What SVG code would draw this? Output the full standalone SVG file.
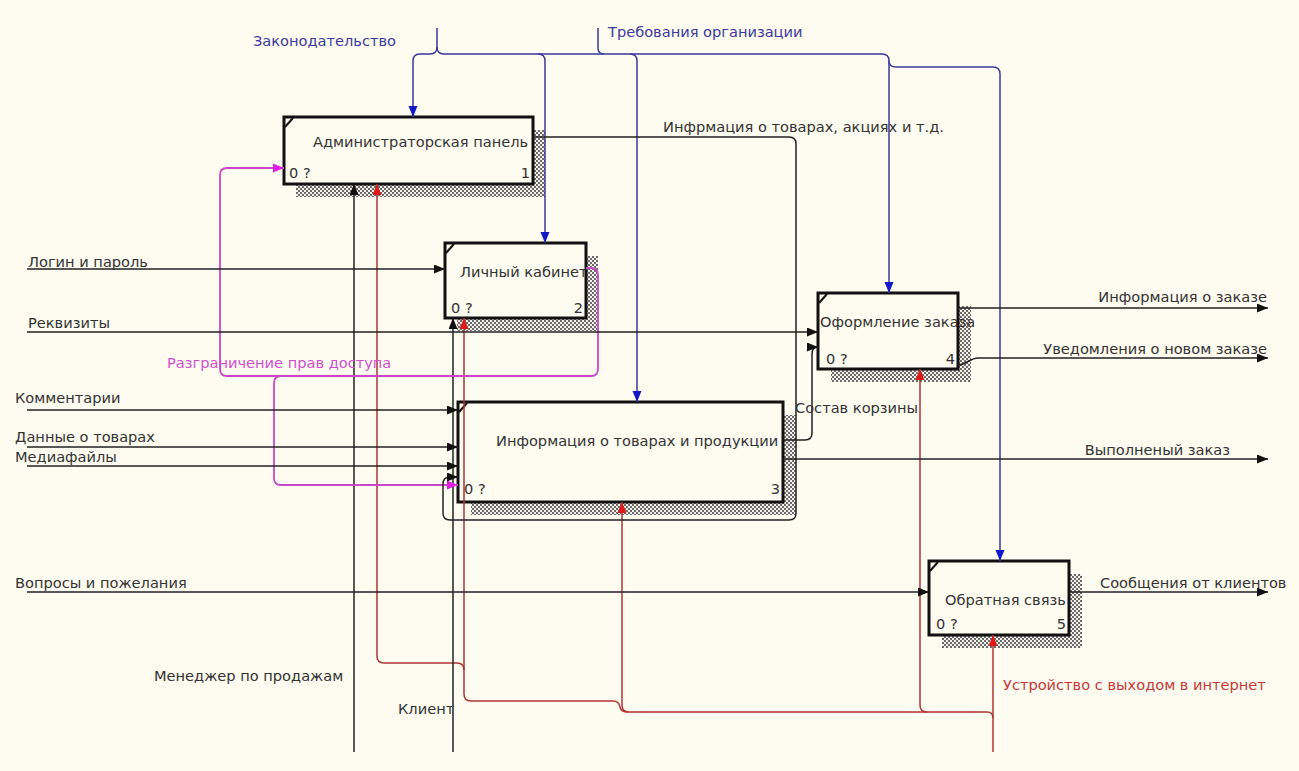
<svg xmlns="http://www.w3.org/2000/svg" width="1299" height="771" viewBox="0 0 1299 771">
<style>
text{font-family:"DejaVu Sans","Liberation Sans",sans-serif;font-size:14.6px;fill:#333}
.box{fill:#FEFBF1;stroke:#111;stroke-width:3}
.shadow{fill:url(#hatch)}
.tick{stroke:#111;stroke-width:2;fill:none}
.blk{stroke:#222;stroke-width:1.5;fill:none;marker-end:url(#ab)}
.blkn{stroke:#222;stroke-width:1.5;fill:none}
.blu{stroke:#3A3A9A;stroke-width:1.5;fill:none;marker-end:url(#abl)}
.blun{stroke:#3A3A9A;stroke-width:1.5;fill:none}
.red{stroke:#B03434;stroke-width:1.5;fill:none;marker-end:url(#ar)}
.redn{stroke:#B03434;stroke-width:1.5;fill:none}
.pnk{stroke:#C848C8;stroke-width:1.8;fill:none;marker-end:url(#ap)}
.pnkn{stroke:#C848C8;stroke-width:1.8;fill:none}
.tb{fill:#3A3AA0}
.tr{fill:#C83838}
.tp{fill:#D050D0}
.end{text-anchor:end}
</style>
<defs>
<pattern id="hatch" width="4" height="4" patternUnits="userSpaceOnUse">
<rect width="4" height="4" fill="#F4F2EA"/>
<rect x="0" y="0" width="2" height="2" fill="#6A6A6A"/>
<rect x="2" y="2" width="2" height="2" fill="#6A6A6A"/>
</pattern>
<marker id="ab" markerWidth="12" markerHeight="10" refX="11" refY="4.5" orient="auto" markerUnits="userSpaceOnUse"><path d="M0,0 L11,4.5 L0,9 Z" fill="#111"/></marker>
<marker id="abl" markerWidth="12" markerHeight="10" refX="11" refY="4.5" orient="auto" markerUnits="userSpaceOnUse"><path d="M0,0 L11,4.5 L0,9 Z" fill="#1018C8"/></marker>
<marker id="ar" markerWidth="12" markerHeight="10" refX="11" refY="4.5" orient="auto" markerUnits="userSpaceOnUse"><path d="M0,0 L11,4.5 L0,9 Z" fill="#E01818"/></marker>
<marker id="ap" markerWidth="12" markerHeight="10" refX="11" refY="4.5" orient="auto" markerUnits="userSpaceOnUse"><path d="M0,0 L11,4.5 L0,9 Z" fill="#E020E0"/></marker>
</defs>
<rect width="1299" height="771" fill="#FEFBF1"/>

<g id="node1">
<rect class="shadow" x="296" y="130" width="249" height="67"/>
<rect class="box" x="284" y="117" width="249" height="67"/>
<path class="tick" d="M285,127 L293,118"/>
<text x="313" y="147">Администраторская панель</text>
<text x="289" y="178">0 ?</text>
<text class="end" x="530" y="178">1</text>
</g>

<g id="node2">
<rect class="shadow" x="457" y="256" width="141" height="75"/>
<rect class="box" x="445" y="243" width="141" height="75"/>
<path class="tick" d="M446,253 L454,244"/>
<text x="460" y="277">Личный кабинет</text>
<text x="451" y="313">0 ?</text>
<text class="end" x="583" y="313">2</text>
</g>

<g id="node3">
<rect class="shadow" x="471" y="415" width="325" height="100"/>
<rect class="box" x="458" y="402" width="325" height="100"/>
<path class="tick" d="M459,412 L467,403"/>
<text x="496" y="446">Информация о товарах и продукции</text>
<text x="464" y="494">0 ?</text>
<text class="end" x="780" y="494">3</text>
</g>

<g id="node4">
<rect class="shadow" x="831" y="306" width="140" height="76"/>
<rect class="box" x="818" y="293" width="140" height="76"/>
<path class="tick" d="M819,303 L827,294"/>
<text x="820" y="327">Оформление заказа</text>
<text x="826" y="364">0 ?</text>
<text class="end" x="955" y="364">4</text>
</g>

<g id="node5">
<rect class="shadow" x="942" y="574" width="140" height="74"/>
<rect class="box" x="929" y="561" width="140" height="74"/>
<path class="tick" d="M930,571 L938,562"/>
<text x="945" y="605">Обратная связь</text>
<text x="936" y="629">0 ?</text>
<text class="end" x="1066" y="629">5</text>
</g>

<g id="connectors">
<path class="blu" d="M437,28 V47 Q437,54 430,54 H420 Q413,54 413,61 V117"/>
<path class="blu" d="M437,47 Q437,54 444,54 H882 Q889,54 889,61 V293"/>
<path class="blun" d="M598,28 V48 Q598,54 604,54"/>
<path class="blu" d="M538,54 Q545,54 545,61 V243"/>
<path class="blu" d="M630,54 Q637,54 637,61 V402"/>
<path class="blu" d="M889,61 Q889,67 896,67 H993 Q1000,67 1000,74 V561"/>
<path class="red" d="M993,752 V635"/>
<path class="red" d="M993,718 Q993,712 987,712 H927 Q920,712 920,705 V369"/>
<path class="red" d="M927,712 H629 Q622,712 622,705 V502"/>
<path class="red" d="M628,712 Q621,712 620,707 Q619,701 613,701 H471 Q464,701 464,694 V318"/>
<path class="red" d="M464,670 Q464,663 457,663 H384 Q377,663 377,656 V184"/>
<path class="blk" d="M354,752 V184"/>
<path class="blk" d="M453,752 V318"/>
<path class="pnk" d="M586,268 H591 Q598,268 598,275 V369 Q598,376 591,376 H227 Q220,376 220,369 V175 Q220,168 227,168 H284"/>
<path class="pnk" d="M281,376 Q274,376 274,383 V478 Q274,485 281,485 H458"/>
<path class="blk" d="M27,269 H445"/>
<path class="blk" d="M27,332 H818"/>
<path class="blk" d="M27,410 H458"/>
<path class="blk" d="M27,447 H458"/>
<path class="blk" d="M27,466 H458"/>
<path class="blk" d="M27,592 H929"/>
<path class="blk" d="M533,137 H789 Q796,137 796,144 V513 Q796,520 789,520 H450 Q443,520 443,513 V484 Q443,477 450,477 H458"/>
<path class="blk" d="M783,440 H805 Q812,440 812,433 V354 Q812,347 818,347"/>
<path class="blk" d="M958,308 H1268"/>
<path class="blk" d="M958,365 C966,365 970,358 978,358 H1268"/>
<path class="blk" d="M783,459 H1268"/>
<path class="blk" d="M1069,592 H1268"/>
</g>

<g id="labels">
<text class="tb" x="253" y="46">Законодательство</text>
<text class="tb" x="608" y="37">Требования организации</text>
<text x="663" y="132">Инфрмация о товарах, акциях и т.д.</text>
<text x="28" y="267">Логин и пароль</text>
<text x="28" y="328">Реквизиты</text>
<text class="tp" x="167" y="368">Разграничение прав доступа</text>
<text x="15" y="403">Комментарии</text>
<text x="15" y="442">Данные о товарах</text>
<text x="15" y="462">Медиафайлы</text>
<text x="795" y="413">Состав корзины</text>
<text class="end" x="1267" y="302">Информация о заказе</text>
<text class="end" x="1267" y="354">Уведомления о новом заказе</text>
<text class="end" x="1230" y="455">Выполненый заказ</text>
<text x="15" y="588">Вопросы и пожелания</text>
<text x="1100" y="588">Сообщения от клиентов</text>
<text x="154" y="681">Менеджер по продажам</text>
<text x="398" y="714">Клиент</text>
<text class="tr" x="1003" y="690">Устройство с выходом в интернет</text>
</g>
</svg>
